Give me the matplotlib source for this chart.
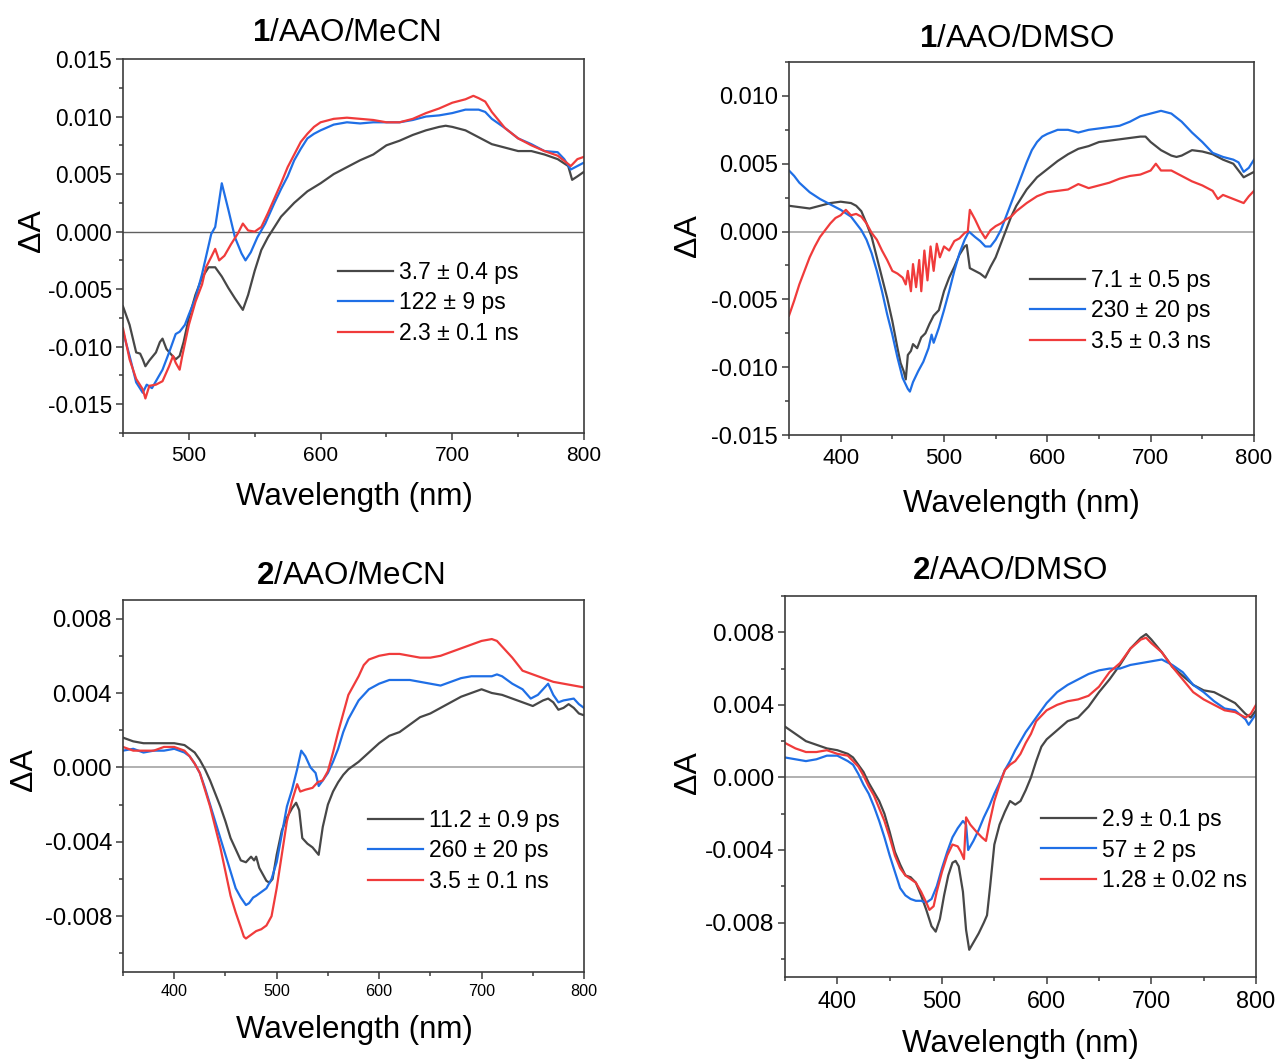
import matplotlib
matplotlib.use("Agg")
import matplotlib.pyplot as plt
from matplotlib.ticker import MultipleLocator, FormatStrFormatter

plt.rcParams['font.family'] = ['Liberation Sans', 'DejaVu Sans']
plt.rcParams['mathtext.fontset'] = 'custom'
plt.rcParams['mathtext.rm'] = 'Liberation Sans'
plt.rcParams['mathtext.bf'] = 'Liberation Sans:bold'
plt.rcParams['axes.unicode_minus'] = False

# ---------------- 1/AAO/MeCN ----------------
p1_k_wl = [450, 455, 460, 463, 465, 467, 470, 475, 478, 480, 483, 486, 490, 493, 496, 500, 505, 510, 515, 520,
           525, 530, 535, 541, 545, 550, 555, 560, 565, 570, 580, 590, 600, 610, 620, 630, 640, 650, 660, 670,
           680, 690, 695, 700, 710, 720, 730, 740, 750, 760, 770, 780, 788, 791, 795, 800]
p1_k_dA = [-0.0065, -0.0081, -0.0105, -0.0106, -0.0111, -0.0117, -0.0112, -0.0105, -0.0096, -0.0093, -0.0102,
           -0.0106, -0.0111, -0.0108, -0.0096, -0.0075, -0.0055, -0.0040, -0.0031, -0.0031, -0.0039, -0.0049,
           -0.0058, -0.0068, -0.0055, -0.0034, -0.0016, -0.0005, 0.0004, 0.0013, 0.0025, 0.0035, 0.0042, 0.0050,
           0.0056, 0.0062, 0.0067, 0.0075, 0.0079, 0.0084, 0.0088, 0.0091, 0.0092, 0.0091, 0.0088, 0.0082, 0.0076,
           0.0073, 0.0070, 0.0070, 0.0067, 0.0063, 0.0057, 0.0045, 0.0048, 0.0052]

p1_b_wl = [450, 455, 460, 465, 468, 472, 476, 480, 485, 490, 493, 497, 500, 505, 510, 513, 517, 520, 522, 525,
           530, 535, 540, 543, 547, 552, 558, 565, 570, 575, 580, 585, 590, 595, 600, 610, 620, 630, 640, 650,
           660, 670, 680, 690, 700, 710, 720, 725, 730, 740, 750, 760, 770, 780, 785, 790, 795, 800]
p1_b_dA = [-0.0087, -0.0108, -0.0131, -0.0140, -0.0133, -0.0136, -0.0128, -0.0120, -0.0105, -0.0089, -0.0087,
           -0.0081, -0.0072, -0.0058, -0.0037, -0.0022, -0.0002, 0.0004, 0.0019, 0.0042, 0.0019, -0.0005,
           -0.0019, -0.0025, -0.0018, -0.0005, 0.0007, 0.0025, 0.0037, 0.0048, 0.0062, 0.0072, 0.0081, 0.0085,
           0.0088, 0.0093, 0.0095, 0.0094, 0.0095, 0.0095, 0.0095, 0.0097, 0.0100, 0.0101, 0.0103, 0.0106,
           0.0106, 0.0104, 0.0098, 0.0090, 0.0081, 0.0076, 0.0070, 0.0069, 0.0063, 0.0054, 0.0057, 0.0060]

p1_r_wl = [450, 455, 460, 465, 467, 470, 475, 480, 485, 488, 490, 493, 495, 500, 505, 510, 513, 517, 520, 523,
           527, 532, 537, 541, 545, 550, 555, 560, 565, 570, 575, 580, 585, 590, 595, 600, 610, 620, 630, 640,
           650, 660, 670, 680, 690, 700, 710, 716, 720, 725, 730, 740, 750, 760, 770, 780, 790, 795, 800]
p1_r_dA = [-0.0084, -0.0111, -0.0128, -0.0137, -0.0145, -0.0134, -0.0133, -0.0130, -0.0117, -0.0108, -0.0114,
           -0.0120, -0.0108, -0.0081, -0.0061, -0.0046, -0.0031, -0.0022, -0.0015, -0.0025, -0.0021, -0.0011,
           -0.0002, 0.0007, 0.0001, 0.0000, 0.0004, 0.0016, 0.0029, 0.0042, 0.0056, 0.0067, 0.0078, 0.0085,
           0.0091, 0.0095, 0.0098, 0.0099, 0.0098, 0.0097, 0.0095, 0.0095, 0.0098, 0.0103, 0.0107, 0.0112,
           0.0115, 0.0118, 0.0116, 0.0113, 0.0104, 0.0090, 0.0081, 0.0075, 0.0070, 0.0066, 0.0057, 0.0063, 0.0065]

# ---------------- 1/AAO/DMSO ----------------
p2_k_wl = [350, 360, 370, 380, 390, 400, 410, 415, 420, 425, 430, 435, 440, 445, 450, 455, 458, 461, 463, 465,
           468, 470, 474, 478, 482, 486, 490, 495, 500, 505, 510, 515, 520, 522, 525, 530, 535, 540, 545, 550,
           555, 560, 565, 570, 580, 590, 600, 610, 620, 630, 640, 650, 660, 670, 680, 690, 695, 700, 710, 720,
           725, 730, 740, 750, 760, 770, 780, 785, 790, 795, 800]
p2_k_dA = [0.0019, 0.0018, 0.0017, 0.0019, 0.0021, 0.0022, 0.0021, 0.0019, 0.0015, 0.0006, -0.0004, -0.0019,
           -0.0034, -0.0049, -0.0066, -0.0086, -0.0097, -0.0103, -0.0109, -0.0091, -0.0088, -0.0083, -0.0086,
           -0.0078, -0.0075, -0.0068, -0.0062, -0.0058, -0.0044, -0.0034, -0.0026, -0.0017, -0.0011, -0.0010,
           -0.0027, -0.0029, -0.0031, -0.0034, -0.0026, -0.0019, -0.0009, 0.0001, 0.0011, 0.0019, 0.0031, 0.0040,
           0.0046, 0.0052, 0.0057, 0.0061, 0.0063, 0.0066, 0.0067, 0.0068, 0.0069, 0.0070, 0.0070, 0.0066, 0.0060,
           0.0056, 0.0055, 0.0056, 0.0060, 0.0059, 0.0057, 0.0053, 0.0050, 0.0045, 0.0040, 0.0042, 0.0044]

p2_b_wl = [350, 355, 360, 370, 380, 390, 400, 410, 415, 420, 425, 430, 435, 440, 445, 450, 455, 460, 465, 467,
           470, 475, 480, 485, 488, 490, 495, 500, 505, 510, 515, 520, 524, 530, 535, 540, 545, 550, 555, 560,
           565, 570, 575, 580, 585, 590, 595, 600, 610, 620, 630, 640, 650, 660, 670, 680, 690, 700, 710, 720,
           730, 740, 750, 760, 770, 780, 785, 790, 795, 800]
p2_b_dA = [0.0045, 0.0041, 0.0036, 0.0029, 0.0024, 0.0020, 0.0016, 0.0011, 0.0006, 0.0001, -0.0006, -0.0016,
           -0.0029, -0.0044, -0.0061, -0.0076, -0.0093, -0.0108, -0.0116, -0.0118, -0.0111, -0.0103, -0.0096,
           -0.0086, -0.0076, -0.0082, -0.0071, -0.0058, -0.0044, -0.0029, -0.0016, -0.0006, 0.0000, -0.0004,
           -0.0007, -0.0011, -0.0011, -0.0006, 0.0001, 0.0011, 0.0021, 0.0031, 0.0041, 0.0051, 0.0060, 0.0066,
           0.0070, 0.0072, 0.0075, 0.0075, 0.0073, 0.0075, 0.0076, 0.0077, 0.0078, 0.0081, 0.0085, 0.0087,
           0.0089, 0.0087, 0.0081, 0.0073, 0.0066, 0.0058, 0.0055, 0.0053, 0.0051, 0.0044, 0.0047, 0.0053]

p2_r_wl = [350, 355, 360, 365, 370, 375, 380, 385, 390, 395, 400, 405, 410, 415, 420, 425, 430, 435, 440, 445,
           450, 455, 460, 463, 465, 468, 470, 473, 476, 478, 481, 484, 487, 490, 493, 496, 500, 505, 510, 515,
           520, 523, 525, 530, 535, 540, 545, 550, 555, 560, 565, 570, 580, 590, 600, 610, 620, 630, 640, 650,
           660, 670, 680, 690, 700, 705, 710, 720, 730, 740, 750, 760, 765, 770, 780, 790, 795, 800]
p2_r_dA = [-0.0062, -0.0051, -0.0039, -0.0029, -0.0019, -0.0011, -0.0004, 0.0001, 0.0006, 0.0010, 0.0012,
           0.0016, 0.0012, 0.0013, 0.0011, 0.0006, -0.0001, -0.0006, -0.0014, -0.0021, -0.0029, -0.0031, -0.0034,
           -0.0039, -0.0029, -0.0044, -0.0024, -0.0041, -0.0021, -0.0044, -0.0014, -0.0036, -0.0011, -0.0029,
           -0.0009, -0.0019, -0.0011, -0.0014, -0.0007, -0.0005, -0.0001, 0.0000, 0.0016, 0.0009, 0.0001,
           -0.0005, 0.0001, 0.0004, 0.0006, 0.0009, 0.0011, 0.0015, 0.0021, 0.0026, 0.0029, 0.0030, 0.0031,
           0.0035, 0.0032, 0.0034, 0.0036, 0.0039, 0.0041, 0.0042, 0.0045, 0.0050, 0.0045, 0.0045, 0.0041,
           0.0037, 0.0034, 0.0030, 0.0024, 0.0027, 0.0024, 0.0021, 0.0026, 0.0030]

# ---------------- 2/AAO/MeCN ----------------
p3_k_wl = [350, 360, 370, 380, 390, 400, 410, 415, 420, 425, 430, 435, 440, 445, 450, 455, 460, 465, 470, 475,
           478, 480, 483, 487, 490, 493, 496, 500, 505, 510, 515, 519, 522, 525, 530, 535, 541, 545, 550, 555,
           560, 565, 570, 575, 580, 590, 600, 610, 620, 630, 640, 650, 660, 670, 680, 690, 700, 710, 720, 730,
           740, 750, 760, 765, 770, 775, 780, 785, 790, 795, 800]
p3_k_dA = [0.0016, 0.0014, 0.0013, 0.0013, 0.0013, 0.0013, 0.0012, 0.0010, 0.0008, 0.0004, -0.0001, -0.0007,
           -0.0014, -0.0021, -0.0029, -0.0038, -0.0044, -0.0050, -0.0051, -0.0048, -0.0050, -0.0048, -0.0054,
           -0.0058, -0.0061, -0.0062, -0.0060, -0.0047, -0.0034, -0.0027, -0.0022, -0.0019, -0.0023, -0.0038,
           -0.0041, -0.0043, -0.0047, -0.0032, -0.0020, -0.0013, -0.0008, -0.0004, -0.0001, 0.0001, 0.0003,
           0.0008, 0.0013, 0.0017, 0.0019, 0.0023, 0.0027, 0.0029, 0.0032, 0.0035, 0.0038, 0.0040, 0.0042,
           0.0040, 0.0039, 0.0037, 0.0035, 0.0033, 0.0036, 0.0037, 0.0035, 0.0031, 0.0032, 0.0034, 0.0032,
           0.0029, 0.0028]

p3_b_wl = [350, 360, 370, 380, 390, 400, 410, 415, 420, 425, 430, 435, 440, 445, 450, 455, 460, 465, 470, 473,
           477, 480, 485, 490, 495, 500, 505, 510, 515, 520, 524, 528, 533, 538, 541, 545, 550, 555, 560, 565,
           570, 575, 580, 585, 590, 600, 610, 620, 630, 640, 650, 660, 670, 680, 690, 700, 710, 715, 720, 730,
           740, 748, 755, 760, 765, 770, 775, 780, 790, 795, 800]
p3_b_dA = [0.0009, 0.0010, 0.0008, 0.0009, 0.0009, 0.0010, 0.0008, 0.0006, 0.0002, -0.0003, -0.0011, -0.0020,
           -0.0029, -0.0038, -0.0047, -0.0056, -0.0065, -0.0070, -0.0074, -0.0073, -0.0070, -0.0069, -0.0067,
           -0.0065, -0.0060, -0.0051, -0.0036, -0.0021, -0.0012, -0.0001, 0.0009, 0.0006, 0.0000, -0.0003,
           -0.0010, -0.0007, -0.0003, 0.0003, 0.0010, 0.0019, 0.0026, 0.0031, 0.0036, 0.0039, 0.0042, 0.0045,
           0.0047, 0.0047, 0.0047, 0.0046, 0.0045, 0.0044, 0.0046, 0.0048, 0.0049, 0.0049, 0.0049, 0.0050,
           0.0049, 0.0045, 0.0042, 0.0037, 0.0039, 0.0042, 0.0045, 0.0039, 0.0035, 0.0036, 0.0037, 0.0034, 0.0032]

p3_r_wl = [350, 360, 370, 380, 390, 400, 410, 415, 420, 425, 430, 435, 440, 445, 450, 455, 460, 465, 468, 470,
           475, 480, 485, 490, 495, 500, 505, 510, 515, 520, 523, 528, 535, 540, 545, 550, 555, 560, 565, 570,
           575, 580, 585, 590, 600, 610, 620, 630, 640, 650, 660, 670, 680, 690, 700, 710, 715, 720, 730, 740,
           750, 760, 770, 780, 790, 800]
p3_r_dA = [0.0011, 0.0009, 0.0009, 0.0009, 0.0011, 0.0011, 0.0009, 0.0006, 0.0002, -0.0003, -0.0012, -0.0021,
           -0.0032, -0.0043, -0.0056, -0.0069, -0.0078, -0.0086, -0.0091, -0.0092, -0.0090, -0.0088, -0.0087,
           -0.0085, -0.0080, -0.0065, -0.0047, -0.0029, -0.0018, -0.0009, -0.0013, -0.0012, -0.0011, -0.0008,
           -0.0007, -0.0002, 0.0008, 0.0019, 0.0029, 0.0039, 0.0044, 0.0049, 0.0055, 0.0058, 0.0060, 0.0061,
           0.0061, 0.0060, 0.0059, 0.0059, 0.0060, 0.0062, 0.0064, 0.0066, 0.0068, 0.0069, 0.0068, 0.0065,
           0.0059, 0.0052, 0.0050, 0.0048, 0.0046, 0.0045, 0.0044, 0.0043]

# ---------------- 2/AAO/DMSO ----------------
p4_k_wl = [350, 360, 370, 380, 390, 400, 410, 415, 420, 425, 430, 435, 440, 445, 450, 455, 460, 465, 470, 475,
           480, 485, 490, 494, 498, 502, 506, 510, 513, 516, 520, 523, 526, 530, 535, 540, 543, 546, 550, 555,
           560, 565, 570, 575, 580, 585, 590, 595, 600, 610, 620, 630, 640, 650, 660, 670, 680, 690, 695, 700,
           710, 720, 730, 740, 750, 760, 770, 780, 790, 795, 800]
p4_k_dA = [0.0028, 0.0024, 0.0020, 0.0018, 0.0016, 0.0015, 0.0013, 0.0011, 0.0007, 0.0003, -0.0003, -0.0008,
           -0.0013, -0.0020, -0.0030, -0.0041, -0.0048, -0.0054, -0.0055, -0.0058, -0.0065, -0.0073, -0.0082,
           -0.0085, -0.0078, -0.0065, -0.0054, -0.0047, -0.0046, -0.0049, -0.0063, -0.0084, -0.0095, -0.0091,
           -0.0086, -0.0080, -0.0076, -0.0060, -0.0037, -0.0026, -0.0019, -0.0013, -0.0015, -0.0013, -0.0007,
           0.0000, 0.0009, 0.0017, 0.0021, 0.0026, 0.0031, 0.0033, 0.0039, 0.0047, 0.0054, 0.0062, 0.0071,
           0.0077, 0.0079, 0.0076, 0.0069, 0.0061, 0.0056, 0.0051, 0.0048, 0.0047, 0.0044, 0.0041, 0.0035,
           0.0033, 0.0037]

p4_b_wl = [350, 360, 370, 380, 390, 400, 410, 415, 420, 425, 430, 435, 440, 445, 450, 455, 460, 465, 470, 475,
           480, 485, 490, 495, 500, 505, 510, 515, 520, 523, 525, 530, 535, 540, 545, 550, 555, 560, 565, 570,
           575, 580, 590, 600, 610, 620, 630, 640, 650, 660, 670, 680, 690, 700, 710, 720, 730, 740, 750, 760,
           770, 780, 790, 793, 800]
p4_b_dA = [0.0011, 0.0010, 0.0009, 0.0010, 0.0012, 0.0012, 0.0009, 0.0007, 0.0002, -0.0004, -0.0009, -0.0016,
           -0.0024, -0.0033, -0.0043, -0.0052, -0.0061, -0.0065, -0.0067, -0.0068, -0.0068, -0.0069, -0.0067,
           -0.0060, -0.0050, -0.0041, -0.0033, -0.0028, -0.0024, -0.0026, -0.0040, -0.0035, -0.0029, -0.0022,
           -0.0016, -0.0009, -0.0003, 0.0004, 0.0009, 0.0015, 0.0020, 0.0025, 0.0033, 0.0041, 0.0047, 0.0051,
           0.0054, 0.0057, 0.0059, 0.0060, 0.0060, 0.0062, 0.0063, 0.0064, 0.0065, 0.0062, 0.0058, 0.0051,
           0.0047, 0.0042, 0.0038, 0.0037, 0.0032, 0.0029, 0.0035]

p4_r_wl = [350, 360, 370, 380, 390, 400, 410, 415, 420, 425, 430, 435, 440, 445, 450, 455, 460, 465, 470, 475,
           480, 485, 488, 492, 495, 500, 505, 510, 515, 518, 521, 523, 527, 533, 538, 542, 545, 550, 555, 560,
           565, 570, 575, 580, 585, 590, 595, 600, 610, 620, 630, 640, 650, 660, 670, 680, 690, 695, 700, 710,
           720, 730, 740, 750, 760, 770, 780, 790, 795, 800]
p4_r_dA = [0.0019, 0.0016, 0.0014, 0.0014, 0.0015, 0.0013, 0.0012, 0.0009, 0.0006, 0.0001, -0.0005, -0.0010,
           -0.0017, -0.0024, -0.0033, -0.0043, -0.0050, -0.0054, -0.0056, -0.0058, -0.0063, -0.0069, -0.0073,
           -0.0071, -0.0063, -0.0052, -0.0043, -0.0037, -0.0038, -0.0041, -0.0045, -0.0022, -0.0026, -0.0030,
           -0.0033, -0.0035, -0.0026, -0.0013, -0.0004, 0.0004, 0.0007, 0.0009, 0.0013, 0.0019, 0.0024, 0.0031,
           0.0034, 0.0037, 0.0040, 0.0042, 0.0043, 0.0045, 0.0050, 0.0058, 0.0063, 0.0071, 0.0076, 0.0077,
           0.0074, 0.0069, 0.0061, 0.0054, 0.0047, 0.0043, 0.0040, 0.0037, 0.0036, 0.0033, 0.0035, 0.0040]

# Lifetimes shown in the legends
p1_labels = ['3.7 ± 0.4 ps', '122 ± 9 ps', '2.3 ± 0.1 ns']
p2_labels = ['7.1 ± 0.5 ps', '230 ± 20 ps', '3.5 ± 0.3 ns']
p3_labels = ['11.2 ± 0.9 ps', '260 ± 20 ps', '3.5 ± 0.1 ns']
p4_labels = ['2.9 ± 0.1 ps', '57 ± 2 ps', '1.28 ± 0.02 ns']

titles = [r'$\mathbf{1}$/AAO/MeCN', r'$\mathbf{1}$/AAO/DMSO',
          r'$\mathbf{2}$/AAO/MeCN', r'$\mathbf{2}$/AAO/DMSO']

COLORS = ['#474747', '#1f6fe6', '#f03b3b']
SPINE = '#3c3c3c'
W, H = 1281, 1059

fig = plt.figure(figsize=(W / 100, H / 100), dpi=100)
fig.patch.set_facecolor('white')


def px_axes(l, t, r, b):
    return fig.add_axes([l / W, 1 - b / H, (r - l) / W, (b - t) / H])


def fxy(x, y):
    return x / W, 1 - y / H


panels = [
    dict(box=(123, 59, 584, 433), xlim=(450, 800), ylim=(-0.0175, 0.015), ymaj=0.005, ymin=0.0025,
         yfmt='%.3f', xfs=15, yfs=16.3, zero='#606060', zlw=1.0,
         series=[(p1_k_wl, p1_k_dA), (p1_b_wl, p1_b_dA), (p1_r_wl, p1_r_dA)], labels=p1_labels,
         title_xy=(346, 41), xlab_xy=(354, 505), ylab_xy=(32, 231), leg_xy=(338, 303)),
    dict(box=(789, 62, 1254, 435), xlim=(350, 800), ylim=(-0.015, 0.0125), ymaj=0.005, ymin=0.0025,
         yfmt='%.3f', xfs=16, yfs=17, zero='#b0b0b0', zlw=1.4,
         series=[(p2_k_wl, p2_k_dA), (p2_b_wl, p2_b_dA), (p2_r_wl, p2_r_dA)], labels=p2_labels,
         title_xy=(1017, 47), xlab_xy=(1021, 512), ylab_xy=(688, 236), leg_xy=(1030, 311)),
    dict(box=(123, 600, 584, 972), xlim=(350, 800), ylim=(-0.011, 0.009), ymaj=0.004, ymin=0.002,
         yfmt='%.3f', xfs=11.6, yfs=17.2, zero='#b0b0b0', zlw=1.4,
         series=[(p3_k_wl, p3_k_dA), (p3_b_wl, p3_b_dA), (p3_r_wl, p3_r_dA)], labels=p3_labels,
         title_xy=(350, 584), xlab_xy=(354, 1038), ylab_xy=(24, 770), leg_xy=(368, 851)),
    dict(box=(785, 596, 1256, 977), xlim=(350, 800), ylim=(-0.011, 0.010), ymaj=0.004, ymin=0.002,
         yfmt='%.3f', xfs=16.8, yfs=17.6, zero='#b0b0b0', zlw=1.4,
         series=[(p4_k_wl, p4_k_dA), (p4_b_wl, p4_b_dA), (p4_r_wl, p4_r_dA)], labels=p4_labels,
         title_xy=(1010, 579), xlab_xy=(1020, 1052), ylab_xy=(688, 773), leg_xy=(1041, 850)),
]

for p, title in zip(panels, titles):
    ax = px_axes(*p['box'])
    ax.axhline(0, color=p['zero'], lw=p['zlw'], zorder=1)
    for (wl, dA), c, lab in zip(p['series'], COLORS, p['labels']):
        ax.plot(wl, dA, color=c, lw=1.6, label=lab, zorder=2)
    ax.set_xlim(*p['xlim'])
    ax.set_ylim(*p['ylim'])
    ax.xaxis.set_major_locator(MultipleLocator(100))
    ax.xaxis.set_minor_locator(MultipleLocator(50))
    ax.yaxis.set_major_locator(MultipleLocator(p['ymaj']))
    ax.yaxis.set_minor_locator(MultipleLocator(p['ymin']))
    ax.yaxis.set_major_formatter(FormatStrFormatter(p['yfmt']))
    for s in ax.spines.values():
        s.set_color(SPINE)
        s.set_linewidth(1.2)
    ax.tick_params(which='both', direction='out', top=False, right=False, color=SPINE, width=1.1)
    ax.tick_params(which='major', length=5)
    ax.tick_params(which='minor', length=3)
    ax.tick_params(axis='x', which='major', labelsize=p['xfs'], pad=4)
    ax.tick_params(axis='y', which='major', labelsize=p['yfs'], pad=3)

    tx, ty = fxy(*p['title_xy'])
    fig.text(tx, ty, title, ha='center', va='baseline', fontsize=22.5)
    xx, xy = fxy(*p['xlab_xy'])
    fig.text(xx, xy, 'Wavelength (nm)', ha='center', va='baseline', fontsize=22.5)
    yx, yy = fxy(*p['ylab_xy'])
    fig.text(yx, yy, 'ΔA', ha='center', va='center', rotation=90, fontsize=23)

    lx, ly = fxy(*p['leg_xy'])
    ax.legend(loc='center left', bbox_to_anchor=(lx, ly), bbox_transform=fig.transFigure,
              frameon=False, fontsize=16.5, handlelength=2.4, handletextpad=0.25,
              labelspacing=0.34, borderpad=0, borderaxespad=0)

fig.savefig('out.png', dpi=100, facecolor='white')
